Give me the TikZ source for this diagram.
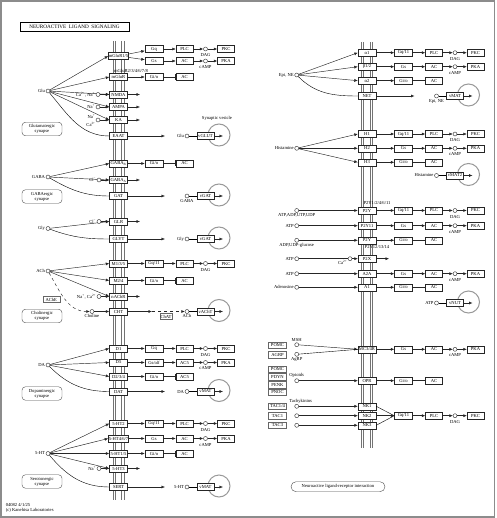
\documentclass[tikz,border=0pt]{standalone}
\usepackage{fontspec}
\setmainfont{Liberation Serif}
\usetikzlibrary{arrows.meta}

\tikzset{
  rec/.style={draw=black!85, fill=white, minimum width=18pt, minimum height=7pt, inner xsep=0.4pt, inner ysep=0pt, font=\fontsize{4.6}{5}\selectfont},
  gbox/.style={rec},
  ebox/.style={rec, minimum width=17pt},
  gene/.style={rec, draw=black!60, line width=0.55pt, minimum height=6.5pt},
  lig/.style={circle, draw=black!85, fill=white, inner sep=0pt, minimum size=4pt},
  msg/.style={inner sep=0.6pt, font=\fontsize{4.6}{5}\selectfont},
  syn/.style={draw=black!70, rounded corners=3.5pt, minimum width=40pt, minimum height=13.5pt, inner sep=0.5pt, align=center, font=\fontsize{4.6}{5}\selectfont},
  act/.style={-{Latex[length=3.5pt,width=3pt]}, draw=black!85, line width=0.45pt},
  inh/.style={-{Bar[width=6pt]}, draw=black!85, line width=0.45pt},
  mem/.style={draw=black!55, line width=0.5pt},
  ves/.style={draw=black!40, line width=1pt}
}

% receptor -> G -> PLC -> DAG -> PKC
\newcommand{\casPKC}[5]{%
  \node[gbox] (#2-g) at ({#3+154},#4) {#5};
  \node[ebox] (#2-e) at ({#3+184.5},#4) {PLC};
  \node[lig] (#2-m) at ({#3+205.5},#4) {};
  \node[msg] at ({#3+205.5},{#4+6}) {DAG};
  \node[ebox] (#2-k) at ({#3+226},#4) {PKC};
  \draw[act] (#1) -- (#2-g);
  \draw[act] (#2-g) -- (#2-e);
  \draw[act] (#2-e) -- (#2-m);
  \draw[act] (#2-m) -- (#2-k);}
% receptor -> G -> AC -> cAMP -> PKA
\newcommand{\casPKA}[6]{%
  \node[gbox] (#2-g) at ({#3+154},#4) {#5};
  \node[ebox] (#2-e) at ({#3+184.5},#4) {#6};
  \node[lig] (#2-m) at ({#3+205.5},#4) {};
  \node[msg] at ({#3+205.5},{#4+6}) {cAMP};
  \node[ebox] (#2-k) at ({#3+226},#4) {PKA};
  \draw[act] (#1) -- (#2-g);
  \draw[act] (#2-g) -- (#2-e);
  \draw[act] (#2-e) -- (#2-m);
  \draw[act] (#2-m) -- (#2-k);}
% receptor -> Gi/o -| AC
\newcommand{\casGi}[5]{%
  \node[gbox] (#2-g) at ({#3+154},#4) {Gi/o};
  \node[ebox] (#2-e) at ({#3+184.5},#4) {#5};
  \draw[act] (#1) -- (#2-g);
  \draw[inh] (#2-g) -- (#2-e);}
% ligand -> vesicular transporter
\newcommand{\vesicle}[6]{%
  \draw[ves] ({#2+219},{#3-1}) circle[radius=11pt];
  \node[lig, label={[msg]#5:{#4}}] (#1-c) at ({#2+187},#3) {};
  \node[ebox] (#1-v) at ({#2+205.5},#3) {#6};
  \coordinate (#1-o) at ({#2+223},#3);
  \draw (#1-c) -- (#1-v);
  \draw[act] (#1-v) -- (#1-o);}

\begin{document}
\begin{tikzpicture}[x=1pt,y=-1pt]
\useasboundingbox (0,0) rectangle (496,518);
\draw[black!45, line width=1.5pt] (1,1) rectangle (494.5,517);

\node[draw, line width=0.8pt, minimum width=109pt, minimum height=8.5pt, inner sep=0pt, font=\fontsize{5.2}{6}\selectfont] (title) at (74.5,26.8) {NEUROACTIVE\ \ LIGAND\ \ SIGNALING};

% membranes
\foreach \m in {113,115.5,121.5,124} \draw[mem] (\m,41) -- (\m,500);
\foreach \m in {361,363.5,370,372.5} \draw[mem] (\m,42) -- (\m,448);

% synapse boxes
\node[syn] (glusyn) at (42,129) {Glutamatergic\\synapse};
\node[syn] (gabasyn) at (42,196.5) {GABAergic\\synapse};
\node[syn] (achsyn) at (42,316) {Cholinergic\\synapse};
\node[syn] (dasyn) at (42,393.5) {Dopaminergic\\synapse};
\node[syn] (htsyn) at (42,481.5) {Serotonergic\\synapse};
\node[syn, minimum width=94pt, minimum height=10pt, rounded corners=5pt] (nlri) at (338,486.7) {Neuroactive ligand-receptor interaction};
\node[msg] (sv) at (217,118.5) {Synaptic vesicle};

% left receptors
\node[rec] (mglua) at (118.5,56) {mGluR1/5};
\node[rec] (mglub) at (118.5,77) {mGluR};
\node[msg] at (131,70.5) {mGluR2/3/4/6/7/8};
\node[rec] (nmda) at (118.5,94.5) {NMDA};
\node[rec] (ampa) at (118.5,107) {AMPA};
\node[rec] (ka) at (118.5,120) {KA};
\node[rec] (eaat) at (118.5,136) {EAAT};
\node[rec] (gabab) at (118.5,163.5) {GABA\textsubscript{B}};
\node[rec] (gabaa) at (118.5,180) {GABA\textsubscript{A}};
\node[rec] (gat) at (118.5,196) {GAT};
\node[rec] (glr) at (118.5,221.5) {GLR};
\node[rec] (glyt) at (118.5,239) {GLYT};
\node[rec] (m135) at (118.5,263.5) {M1/3/5};
\node[rec] (m24) at (118.5,280.5) {M2/4};
\node[rec] (nachr) at (118.5,296.5) {nAChR};
\node[rec] (cht) at (118.5,311.5) {CHT};
\node[rec] (d1) at (118.5,348.5) {D1};
\node[rec] (d5) at (118.5,362.5) {D5};
\node[rec] (d234) at (118.5,376.5) {D2/3/4};
\node[rec] (dat) at (118.5,391.5) {DAT};
\node[rec] (ht2) at (118.5,423.5) {5-HT2};
\node[rec] (ht467) at (118.5,438.5) {5-HT4/6/7};
\node[rec] (ht15) at (118.5,453.5) {5-HT1/5};
\node[rec] (ht3) at (118.5,468.5) {5-HT3};
\node[rec] (sert) at (118.5,487) {SERT};

% left cascades
\casPKC{mglua}{mglua}{0}{49}{Gq}
\casPKA{mglua}{mgluas}{0}{61}{Gs}{AC}
\casGi{mglub}{mglub}{0}{77}{AC}
\casGi{gabab}{gabab}{0}{163.5}{AC}
\casPKC{m135}{m135}{0}{263.5}{Gq/11}
\casGi{m24}{m24}{0}{280.5}{AC}
\casPKC{d1}{d1}{0}{348.5}{Gq}
\casPKA{d5}{d5}{0}{362.5}{Gs/olf}{AC5}
\casGi{d234}{d234}{0}{376.5}{AC5}
\casPKC{ht2}{ht2}{0}{423.5}{Gq/11}
\casPKA{ht467}{ht467}{0}{438.5}{Gs}{AC}
\casGi{ht15}{ht15}{0}{453.5}{AC}

% ion channel outputs
\foreach \r/\y in {nmda/94.5,ampa/107,ka/120,gabaa/180,glr/221.5,nachr/296.5,ht3/468.5} {
  \coordinate (\r-o) at (140,\y);
  \draw[act] (\r) -- (\r-o);
}

% left vesicles
\coordinate (eaat-t) at (165,136);
\draw[act] (eaat) -- (eaat-t);
\vesicle{eaat}{0}{136}{Glu}{left}{vGLUT}
\coordinate (gat-t) at (165,196);
\draw[act] (gat) -- (gat-t);
\vesicle{gat}{0}{196}{GABA}{below}{vGAT}
\coordinate (glyt-t) at (165,239);
\draw[act] (glyt) -- (glyt-t);
\vesicle{glyt}{0}{239}{Gly}{left}{vGAT}
\vesicle{cht}{0}{311.5}{ACh}{below}{vAChT}
\coordinate (cht-t) at (152,311.5);
\draw[act] (cht) -- (cht-t);
\node[gene, minimum width=12pt] (chat) at (166,316.5) {ChAT};
\draw[act, dashed] (cht-t) -- (cht-c);
\coordinate (dat-t) at (165,391.5);
\draw[act] (dat) -- (dat-t);
\vesicle{dat}{0}{391.5}{DA}{left}{vMAT}
\coordinate (sert-t) at (165,487);
\draw[act] (sert) -- (sert-t);
\vesicle{sert}{0}{487}{5-HT}{left}{vMAT}

% left ligands
\node[lig, label={[msg]left:Glu}] (glu) at (48,91) {};
\node[lig, label={[msg]left:GABA}] (gaba) at (48,177) {};
\node[lig, label={[msg]left:Gly}] (gly) at (48,228.5) {};
\node[lig, label={[msg]left:ACh}] (ach) at (48,271) {};
\node[lig, label={[msg]left:DA}] (da) at (48,365) {};
\node[lig, label={[msg]left:5-HT}] (ht) at (48,453.5) {};
\node[gene, minimum width=17pt] (ache) at (51.3,299.5) {AChE};

\foreach \r in {mglua,mglub,nmda,ampa,ka} \draw[act] (glu) -- (\r.west);
\draw (glu) to[out=-50,in=180] (eaat.west);
\foreach \r in {gabab,gabaa} \draw[act] (gaba) -- (\r.west);
\draw (gaba) to[out=-30,in=180] (gat.west);
\draw[act] (gly) -- (glr.west);
\draw (gly) to[out=-20,in=180] (glyt.west);
\foreach \r in {m135,m24,nachr} \draw[act] (ach) -- (\r.west);
\node[lig, label={[msg]below:Choline}] (chol) at (92,311.5) {};
\draw[act, dashed] (ach) to[out=-60,in=180] (chol);
\draw[act] (chol) -- (cht);
\foreach \r in {d1,d5,d234} \draw[act] (da) -- (\r.west);
\draw (da) to[out=-45,in=180] (dat.west);
\foreach \r in {ht2,ht467,ht15,ht3} \draw[act] (ht) -- (\r.west);
\draw (ht) to[out=-50,in=180] (sert.west);

% ions
\node[lig, label={[msg]left:{Ca\textsuperscript{2+}, Na\textsuperscript{+}}}] (nmda-i) at (98,94.5) {};
\node[lig, label={[msg]left:Na\textsuperscript{+}}] (ampa-i) at (98,107) {};
\node[lig, label={[msg]150:Na\textsuperscript{+}}, label={[msg]220:Ca\textsuperscript{2+}}] (ka-i) at (98,120) {};
\node[lig, label={[msg]left:Cl\textsuperscript{−}}] (gabaa-i) at (99,180) {};
\node[lig, label={[msg]left:Cl\textsuperscript{−}}] (glr-i) at (99,221.5) {};
\node[lig, label={[msg]left:{Na\textsuperscript{+}, Ca\textsuperscript{2+}}}] (nachr-i) at (99,296.5) {};
\node[lig, label={[msg]left:Na\textsuperscript{+}}] (ht3-i) at (99,468.5) {};
\foreach \r in {nmda,ampa,ka,gabaa,glr,nachr,ht3} \draw[act] (\r-i) -- (\r);

% right receptors
\node[rec] (a1) at (367,52.7) {α1};
\node[rec] (b123) at (367,66.7) {β1/2};
\node[rec] (a2) at (367,80.7) {α2};
\node[rec] (net) at (367,96) {NET};
\node[rec] (h1) at (367,134) {H1};
\node[rec] (h2) at (367,148.3) {H2};
\node[rec] (h3) at (367,162.3) {H3};
\node[rec] (p2ya) at (367,210.5) {P2Y};
\node[msg] at (377,203.3) {P2Y1/2/4/6/11};
\node[rec] (p2y11) at (367,225.7) {P2Y11};
\node[rec] (p2yb) at (367,240.3) {P2Y};
\node[msg] at (377,246.6) {P2Y12/13/14};
\node[rec] (p2x) at (367,258.7) {P2X};
\node[rec] (a2a) at (367,273.7) {A2A};
\node[rec] (a1r) at (367,287.3) {A1};
\node[rec] (mc34r) at (367,349.3) {MC3/4R};
\node[rec] (opr) at (367,380.7) {OPR};
\node[rec] (nk1) at (367,406.3) {NK1};
\node[rec] (nk2) at (367,415.7) {NK2};
\node[rec] (nk3) at (367,425.3) {NK3};

% right cascades
\casPKC{a1}{a1}{249.5}{52.7}{Gq/11}
\casPKA{b123}{b123}{249.5}{66.7}{Gs}{AC}
\casGi{a2}{a2}{249.5}{80.7}{AC}
\casPKC{h1}{h1}{249.5}{134}{Gq/11}
\casPKA{h2}{h2}{249.5}{148.3}{Gs}{AC}
\casGi{h3}{h3}{249.5}{162.3}{AC}
\casPKC{p2ya}{p2ya}{249.5}{210.5}{Gq/11}
\casPKA{p2y11}{p2y11}{249.5}{225.7}{Gs}{AC}
\casGi{p2yb}{p2yb}{249.5}{240.3}{AC}
\casPKA{a2a}{a2a}{249.5}{273.7}{Gs}{AC}
\casGi{a1r}{a1r}{249.5}{287.3}{AC}
\casPKA{mc34r}{mc34r}{249.5}{349.3}{Gs}{AC}
\casGi{opr}{opr}{249.5}{380.7}{AC}
\casPKC{nk2}{nk}{249.5}{415.7}{Gq/11}
\draw (nk1.east) -- (nk-g.west);
\draw (nk3.east) -- (nk-g.west);
\coordinate (p2x-o) at (389,258.7);
\draw[act] (p2x) -- (p2x-o);

% right vesicles
\coordinate (net-t) at (414.5,96);
\draw[act] (net) -- (net-t);
\vesicle{net}{249.5}{96}{Epi, NE}{below}{vMAT}
\vesicle{vmat2}{249.5}{175.5}{Histamine}{left}{vMAT2}
\vesicle{vnut}{249.5}{303}{ATP}{left}{vNUT}

% right ligands
\node[lig, label={[msg]left:{Epi, NE}}] (epi) at (296.7,75) {};
\foreach \r in {a1,b123,a2} \draw[act] (epi) -- (\r.west);
\draw (epi) to[out=-45,in=180] (net.west);
\node[lig, label={[msg]left:Histamine}] (his) at (296.7,148.3) {};
\foreach \r in {h1,h2,h3} \draw[act] (his) -- (\r.west);
\node[lig, label={[msg]below:{ATP,ADP,UTP,UDP}}] (atpa) at (296.7,210.5) {};
\node[lig, label={[msg]left:ATP}] (atpb) at (296.7,225.7) {};
\node[lig, label={[msg]below:{ADP,UDP-glucose}}] (adp) at (296.7,240.3) {};
\node[lig, label={[msg]left:ATP}] (atpc) at (296.7,258.7) {};
\node[lig, label={[msg]left:ATP}] (atpd) at (296.7,273.7) {};
\node[lig, label={[msg]left:Adenosine}] (ado) at (296.7,287.3) {};
\draw[act] (atpa) -- (p2ya);
\draw[act] (atpb) -- (p2y11);
\draw[act] (adp) -- (p2yb);
\draw[act] (atpc) -- (p2x);
\draw[act] (atpd) -- (a2a);
\draw[act] (ado) -- (a1r);
\node[lig, label={[msg]200:Ca\textsuperscript{2+}}] (p2x-i) at (350,258.7) {};

\node[lig, label={[msg]above:MSH}] (msh) at (296.7,344.7) {};
\node[lig, label={[msg]below:AgRP}] (agrp) at (296.7,354.3) {};
\draw[act] (msh) -- (mc34r.west);
\draw (agrp) -- (mc34r.west);
\node[lig, label={[msg]above:Opioids}] (opi) at (296.7,380.7) {};
\draw[act] (opi) -- (opr);
\node[lig, label={[msg,xshift=4pt]above:Tachykinins}] (tk1) at (296.7,406.3) {};
\node[lig] (tk2) at (296.7,415.7) {};
\node[lig] (tk3) at (296.7,425.3) {};
\draw[act] (tk1) -- (nk1);
\draw[act] (tk2) -- (nk2);
\draw[act] (tk3) -- (nk3);

% precursor genes
\node[gene] (pomca) at (277.5,345.3) {POMC};
\node[gene] (agrpg) at (277.5,355) {AGRP};
\node[gene] (pomcb) at (277.5,369.3) {POMC};
\node[gene] (pdyn) at (277.5,377) {PDYN};
\node[gene] (penk) at (277.5,384.7) {PENK};
\node[gene] (pnoc) at (277.5,392.3) {PNOC};
\node[gene] (tac14) at (277.5,406.3) {TAC1/4};
\node[gene] (tac1) at (277.5,415.7) {TAC1};
\node[gene] (tac3) at (277.5,425.3) {TAC3};

\node[msg, anchor=west, align=left] (foot) at (5,508) {04082 4/1/25\\(c) Kanehisa Laboratories};
\end{tikzpicture}
\end{document}
